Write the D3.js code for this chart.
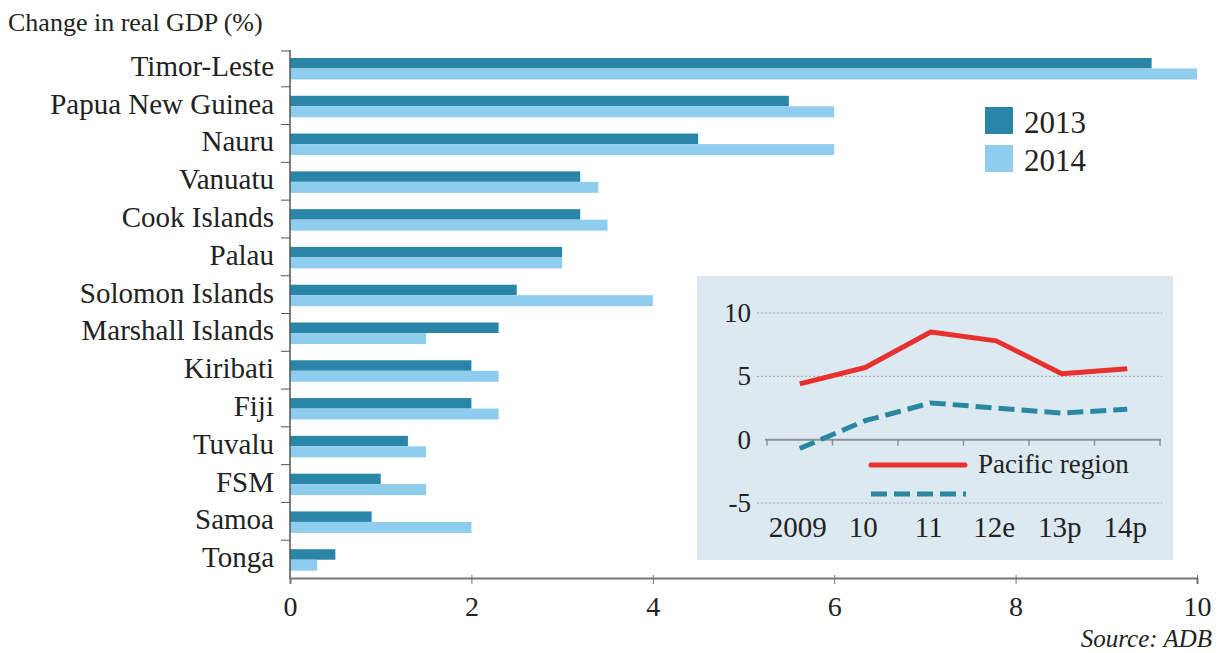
<!DOCTYPE html>
<html><head><meta charset="utf-8">
<script src="https://cdn.jsdelivr.net/npm/d3@7"></script>
<style>body{margin:0;background:#fff}svg{display:block}text{font-family:"Liberation Serif","DejaVu Serif",serif;fill:#222}</style>
</head><body><svg id="c" width="1220" height="653"></svg>
<script>
const countries=["Timor-Leste","Papua New Guinea","Nauru","Vanuatu","Cook Islands","Palau","Solomon Islands","Marshall Islands","Kiribati","Fiji","Tuvalu","FSM","Samoa","Tonga"];
const gdp2013=[9.5,5.5,4.5,3.2,3.2,3.0,2.5,2.3,2.0,2.0,1.3,1.0,0.9,0.5];
const gdp2014=[10.0,6.0,6.0,3.4,3.5,3.0,4.0,1.5,2.3,2.3,1.5,1.5,2.0,0.3];
const xTicks=[0,2,4,6,8,10];
const years=["2009","10","11","12e","13p","14p"];
const pacific=[4.4,5.7,8.5,7.8,5.2,5.6];
const second=[-0.7,1.5,2.9,2.5,2.1,2.4];
const insetTicks=[10,5,0,-5];
const seriesNames=["2013","2014"];

const C1="#2a86a8",C2="#8fcdee";
const FONT="'Liberation Serif','DejaVu Serif',serif";
const svg=d3.select("#c");
const x=d3.scaleLinear().domain([0,10]).range([290,1197]);
const y=d3.scaleBand().domain(countries).range([49,578]);
const bh=10.5, padTop=9;

svg.append("text").attr("x",8).attr("y",31).attr("font-size",26).text("Change in real GDP (%)");

const g=svg.append("g");
g.selectAll("rect.a").data(countries).join("rect").attr("class","a")
 .attr("x",x(0)).attr("y",d=>y(d)+padTop).attr("height",bh)
 .attr("width",(d,i)=>x(gdp2013[i])-x(0)).attr("fill",C1);
g.selectAll("rect.b").data(countries).join("rect").attr("class","b")
 .attr("x",x(0)).attr("y",d=>y(d)+padTop+bh).attr("height",bh+0.5)
 .attr("width",(d,i)=>x(gdp2014[i])-x(0)).attr("fill",C2);

// y axis
const ya=svg.append("g").attr("transform","translate(290,0)");
ya.append("line").attr("y1",50).attr("y2",579).attr("stroke","#555").attr("stroke-width",1.5);
ya.selectAll("line.t").data(countries).join("line").attr("class","t")
 .attr("x1",-9).attr("x2",0).attr("y1",d=>Math.max(51,y(d))).attr("y2",d=>Math.max(51,y(d))).attr("stroke","#555");
ya.selectAll("text").data(countries).join("text").attr("x",-16).attr("y",d=>y(d)+y.bandwidth()/2+8)
 .attr("text-anchor","end").attr("font-size",29).text(d=>d);

// x axis
const xa=svg.append("g").attr("transform","translate(0,578)").call(d3.axisBottom(x).tickValues(xTicks).tickSize(6).tickFormat(d3.format("d")));
xa.attr("font-family",FONT);
xa.select(".domain").attr("stroke","#777").attr("stroke-width",2);
xa.selectAll(".tick line").attr("stroke","#777").attr("y1",-3);
xa.selectAll(".tick text").attr("font-size",28).attr("dy",0).attr("y",38).style("font-family",FONT).attr("fill","#222");

svg.append("text").attr("x",1212).attr("y",647).attr("text-anchor","end").attr("font-size",25).attr("font-style","italic").style("font-family",FONT).text("Source: ADB");

// legend
const lg=svg.append("g");
[C1,C2].forEach((c,i)=>{
 lg.append("rect").attr("x",985).attr("y",107+i*38).attr("width",28).attr("height",27).attr("fill",c);
 lg.append("text").attr("x",1024).attr("y",133+i*38).attr("font-size",31).text(seriesNames[i]);
});

// inset
const ins=svg.append("g");
ins.append("rect").attr("x",697).attr("y",276).attr("width",476).attr("height",284).attr("fill","#dce9f1");
const ix=d3.scaleBand().domain(years).range([767,1160]);
const iy=d3.scaleLinear().domain([-5,10]).range([503,313]);
ins.selectAll("line.g").data(insetTicks.filter(d=>d!==0)).join("line").attr("class","g")
 .attr("x1",757).attr("x2",1162).attr("y1",d=>iy(d)).attr("y2",d=>iy(d))
 .attr("stroke","#9aa5ab").attr("stroke-dasharray","2,2").attr("stroke-width",1);
ins.append("line").attr("x1",765).attr("x2",1161).attr("y1",iy(0)).attr("y2",iy(0)).attr("stroke","#8a9297").attr("stroke-width",2);
const tickX=years.map(d=>ix(d)).concat([ix.range()[1]]);
ins.selectAll("line.tk").data(tickX).join("line").attr("class","tk")
 .attr("x1",d=>d).attr("x2",d=>d).attr("y1",iy(0)).attr("y2",iy(0)+6).attr("stroke","#8a9297").attr("stroke-width",1.5);
ins.selectAll("text.yl").data(insetTicks).join("text").attr("class","yl")
 .attr("x",751).attr("y",d=>iy(d)+9).attr("text-anchor","end").attr("font-size",27).text(d=>d);
ins.selectAll("text.xl").data(years).join("text").attr("class","xl")
 .attr("x",d=>ix(d)+ix.bandwidth()/2-2).attr("y",537).attr("text-anchor","middle").attr("font-size",29).text(d=>d);
const line=d3.line().x((d,i)=>ix(years[i])+ix.bandwidth()/2).y(d=>iy(d));
ins.append("path").attr("d",line(second)).attr("fill","none").attr("stroke","#2a87a0").attr("stroke-width",5).attr("stroke-dasharray","16,7");
ins.append("path").attr("d",line(pacific)).attr("fill","none").attr("stroke","#e8312f").attr("stroke-width",5).attr("stroke-linejoin","round");
ins.append("line").attr("x1",871).attr("x2",965).attr("y1",465).attr("y2",465).attr("stroke","#e8312f").attr("stroke-width",5).attr("stroke-linecap","round");
ins.append("text").attr("x",978).attr("y",473).attr("font-size",27).text("Pacific region");
ins.append("line").attr("x1",871).attr("x2",966).attr("y1",494).attr("y2",494).attr("stroke","#2a87a0").attr("stroke-width",5).attr("stroke-dasharray","16,7");
</script></body></html>
